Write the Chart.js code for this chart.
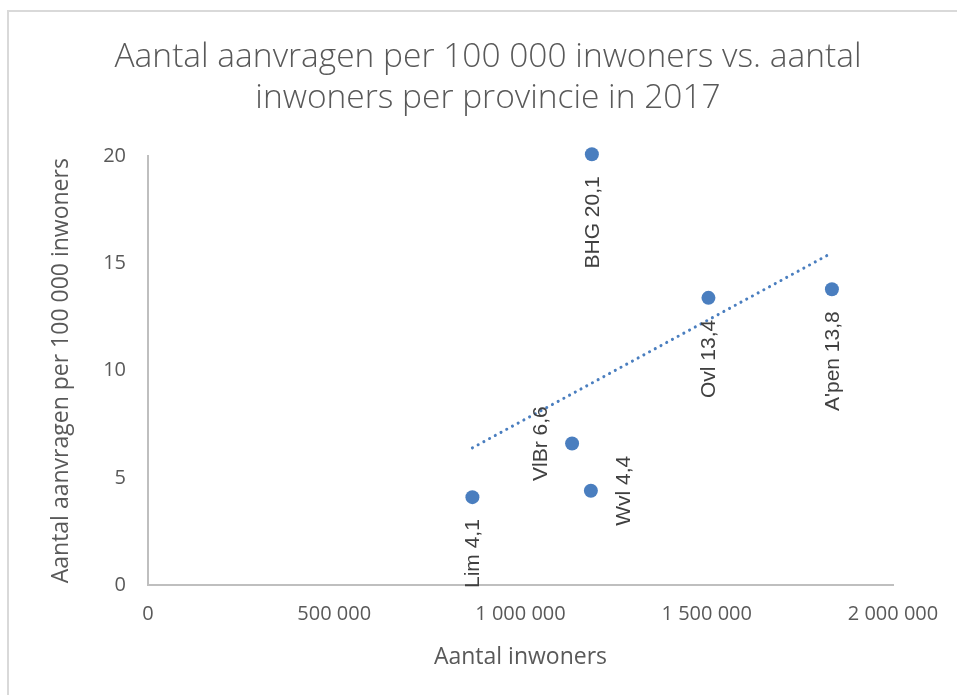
<!DOCTYPE html>
<html>
<head>
<meta charset="utf-8">
<script src="https://cdn.jsdelivr.net/npm/chart.js@4"></script>
<style>
  html, body { margin: 0; padding: 0; background: #fff; }
  body { width: 957px; height: 695px; overflow: hidden; position: relative; }
  .frame { position: absolute; left: 7px; top: 10px; width: 1000px; height: 800px;
           border-left: 2px solid #d9d9d9; border-top: 2px solid #d9d9d9; }
  #wrap { position: absolute; left: 0; top: 0; width: 957px; height: 695px; }
</style>
</head>
<body>
<div class="frame"></div>
<div id="wrap"><canvas id="chart"></canvas></div>
<script>
/* Aanvragen per 100 000 inwoners vs. inwoners per provincie (2017) */
const provinces = ['Lim', 'VlBr', 'Wvl', 'BHG', 'Ovl', "A'pen"];
const inhabitants = [870880, 1138489, 1188942, 1191604, 1504576, 1836030];
const perHundredK = [4.1, 6.6, 4.4, 20.1, 13.4, 13.8];
// trendline end points
const trendX = [870880, 1836030];
const trendY = [6.4, 15.5];
const xTicks = [0, 500000, 1000000, 1500000, 2000000];
const yTicks = [0, 5, 10, 15, 20];

const BLUE = '#4a7ebf';
const GREY_TXT = '#595959';
const FONT = '"Open Sans", sans-serif';

// where each label sits relative to its point
const labelSide = { 'VlBr': 'left', 'Wvl': 'right' };

const fmtThousands = v => String(v).replace(/\B(?=(\d{3})+(?!\d))/g, ' ');

const pointLabels = {
  id: 'pointLabels',
  afterDatasetsDraw(chart) {
    const meta = chart.getDatasetMeta(0);
    const ctx = chart.ctx;
    ctx.save();
    ctx.font = '21px "Liberation Sans", Arial, sans-serif';
    ctx.fillStyle = '#404040';
    ctx.textBaseline = 'middle';
    meta.data.forEach((pt, i) => {
      const name = provinces[i];
      const txt = name + ' ' + String(perHundredK[i]).replace('.', ',');
      const side = labelSide[name] || 'below';
      ctx.save();
      if (side === 'left') {
        ctx.translate(pt.x - 31, pt.y);
        ctx.textAlign = 'center';
      } else if (side === 'right') {
        ctx.translate(pt.x + 33, pt.y);
        ctx.textAlign = 'center';
      } else {
        ctx.translate(pt.x + 1, pt.y + 22);
        ctx.textAlign = 'right';
      }
      ctx.rotate(-Math.PI / 2);
      ctx.fillText(txt, 0, 0);
      ctx.restore();
    });
    ctx.restore();
  }
};

// the title in the reference is centred a bit right of the canvas middle
const shiftTitle = {
  id: 'shiftTitle',
  afterLayout(chart) {
    if (chart.titleBlock) chart.titleBlock.left = 83;
  }
};

new Chart(document.getElementById('chart'), {
  type: 'scatter',
  data: {
    datasets: [
      {
        label: 'Provincies',
        data: inhabitants.map((x, i) => ({ x, y: perHundredK[i] })),
        backgroundColor: BLUE, borderColor: BLUE,
        pointRadius: 7, pointHoverRadius: 7, borderWidth: 0,
        clip: false, order: 1
      },
      {
        label: 'Trend',
        data: trendX.map((x, i) => ({ x, y: trendY[i] })),
        showLine: true, pointRadius: 0,
        borderColor: BLUE, borderWidth: 3,
        borderDash: [0.1, 6.4], borderCapStyle: 'round',
        order: 0
      }
    ]
  },
  options: {
    responsive: true, maintainAspectRatio: false, animation: false,
    layout: { padding: { left: 0, right: 64, top: 0, bottom: 0 } },
    plugins: {
      legend: { display: false },
      tooltip: { enabled: false },
      title: {
        display: true,
        text: ['Aantal aanvragen per 100 000 inwoners vs. aantal', 'inwoners per provincie in 2017'],
        color: GREY_TXT,
        font: { family: FONT, size: 33.5, weight: 300, lineHeight: 1.23 },
        padding: { top: 37, bottom: 37 }
      }
    },
    scales: {
      x: {
        type: 'linear', min: 0, max: 2000000,
        afterBuildTicks: s => { s.ticks = xTicks.map(v => ({ value: v })); },
        afterFit: s => { s.height = 110; },
        grid: { display: false, drawTicks: false },
        border: { display: true, color: '#bfbfbf', width: 2 },
        ticks: {
          color: GREY_TXT, padding: 17, maxRotation: 0,
          font: { family: FONT, size: 20 },
          callback: v => fmtThousands(v)
        },
        title: {
          display: true, text: 'Aantal inwoners', color: GREY_TXT,
          font: { family: FONT, size: 23 },
          padding: { top: 4, bottom: 24 }
        }
      },
      y: {
        min: 0, max: 20,
        afterBuildTicks: s => { s.ticks = yTicks.map(v => ({ value: v })); },
        afterFit: s => { s.width = 148; },
        grid: { display: false, drawTicks: false },
        border: { display: true, color: '#bfbfbf', width: 2 },
        ticks: {
          color: GREY_TXT, padding: 22,
          font: { family: FONT, size: 20 }
        },
        title: {
          display: true, text: 'Aantal aanvragen per 100 000 inwoners', color: GREY_TXT,
          font: { family: FONT, size: 23 },
          padding: { top: 48 }
        }
      }
    }
  },
  plugins: [pointLabels, shiftTitle]
});
</script>
</body>
</html>
